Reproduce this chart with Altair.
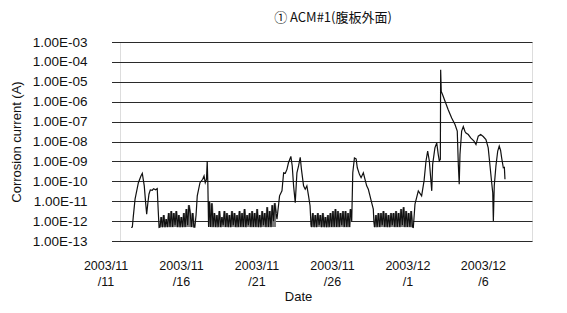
import altair as alt
import pandas as pd

# x = days since 2003-11-11 00:00, y = log10 of corrosion current (A)
PEAK_DAYS = [
    1.30, 1.38, 1.44, 1.56, 1.78, 1.95, 2.04, 2.17, 2.26, 2.33, 2.40, 2.48, 2.57, 2.70, 2.79, 2.92, 3.03, 3.09, 3.15,
    5.52, 5.60, 5.68, 5.86, 6.04, 6.13, 6.21, 6.29, 6.34, 6.38, 6.43,
    10.96, 11.13, 11.29, 11.40, 11.51, 11.62, 11.72, 11.88, 11.97, 12.06, 12.17, 12.28, 12.39, 12.50, 12.58,
    12.72, 12.83, 12.94, 13.05, 13.15, 13.21,
    15.91, 15.98, 16.09, 16.20, 16.28, 16.42, 16.53, 16.68, 16.79, 16.90, 17.01, 17.12, 17.23, 17.34, 17.38,
    19.99, 20.10, 20.32, 20.54, 20.70, 20.83, 20.94, 21.05, 21.21, 21.27, 21.42, 21.54, 21.64, 21.71, 21.78,
    21.80, 21.84, 21.93, 22.09, 22.30, 22.53, 22.75, 22.90, 22.97, 23.03, 23.08, 23.19, 23.30, 23.41, 23.48,
    23.63, 23.79, 24.01, 24.14, 24.29, 24.45, 24.62, 24.80, 24.95, 25.07, 25.18, 25.25, 25.29, 25.35, 25.46,
    25.58, 25.68, 25.77, 25.84, 25.95, 26.02, 26.06,
]
PEAK_LOG = [
    -12.32, -12.3, -11.8, -10.9, -10.07, -9.73, -9.6, -10.23, -11.07, -11.65, -11.15, -10.65, -10.43, -10.45,
    -10.37, -10.43, -10.37, -11.4, -12.32,
    -12.3, -11.7, -10.73, -10.07, -9.9, -9.73, -10.07, -9.9, -8.98, -10.07, -12.3,
    -11.9, -10.73, -10.48, -9.57, -9.6, -9.4, -9.07, -8.75, -9.23, -10.23, -11.07, -9.57, -9.23, -8.8, -9.4,
    -10.23, -10.4, -10.23, -10.73, -11.23, -12.15,
    -12.0, -9.57, -8.83, -8.87, -9.32, -9.65, -9.82, -9.57, -9.9, -10.23, -10.4, -10.73, -11.07, -11.4, -12.07,
    -12.32, -11.15, -10.48, -10.73, -9.98, -8.98, -8.48, -8.98, -10.48, -9.15, -8.32, -8.07, -8.65, -8.98, -8.9,
    -4.4, -5.48, -5.65, -5.98, -6.4, -6.82, -7.15, -7.48, -9.15, -10.15, -8.65, -7.48, -7.25, -7.5, -7.57,
    -7.65, -7.82, -7.98, -8.15, -7.73, -7.65, -7.75, -7.9, -8.32, -9.23, -10.07, -10.57, -12.0, -10.23, -9.23,
    -8.48, -8.23, -8.45, -8.82, -9.32, -9.3, -9.9,
]

# low-level fluctuating blocks, sampled every 2 hours
SAMPLE_STEP_DAYS = 2 / 24
NOISE_FLOOR = 5e-13
NOISE_A_START = 3.21
NOISE_A_LOG = [-12.3, -11.8, -12.3, -11.7, -12.3, -11.9, -12.3, -11.6, -12.3, -11.5, -12.3, -11.6, -12.2, -11.5,
               -12.3, -11.7, -12.3, -11.8, -12.3, -11.6, -12.3, -11.4, -12.2, -11.2, -11.6, -12.3, -11.6, -12.3]
NOISE_B_START = 6.48
NOISE_B_LOG = [-11.0, -12.3, -11.1, -12.3, -11.6, -12.3, -11.7, -12.3, -11.5, -12.3, -11.8, -12.2, -11.5, -12.3,
               -11.6, -12.3, -11.7, -12.3, -11.5, -12.2, -11.6, -12.3, -11.7, -12.3, -11.5, -12.3, -11.6, -12.3,
               -11.4, -12.3, -11.7, -12.2, -11.6, -12.3, -11.5, -12.3, -11.6, -12.3, -11.4, -12.3, -11.7, -12.3,
               -11.5, -12.2, -11.6, -12.3, -11.3, -12.3, -11.5, -12.3, -11.2, -12.0, -11.1, -11.6]
NOISE_C_START = 13.25
NOISE_C_LOG = [-12.3, -11.6, -12.3, -11.7, -12.3, -11.6, -12.2, -11.7, -12.3, -11.6, -12.3, -11.8, -12.3, -11.7,
               -12.3, -11.6, -12.3, -11.5, -12.3, -11.4, -12.3, -11.5, -12.3, -11.6, -12.2, -11.5, -12.3, -11.5,
               -12.3, -11.6, -12.3, -11.4]
NOISE_D_START = 17.43
NOISE_D_LOG = [-12.3, -11.7, -12.3, -11.6, -12.3, -11.6, -12.2, -11.5, -12.3, -11.6, -12.3, -11.7, -12.3, -11.6,
               -12.2, -11.6, -12.3, -11.5, -12.3, -11.6, -12.3, -11.4, -12.2, -11.3, -12.3, -11.5, -12.3, -11.6,
               -12.3, -11.5, -12.3]

TICK_DAYS = [0, 5, 10, 15, 20, 25]
TICK_LABELS = [["2003/11", "/11"], ["2003/11", "/16"], ["2003/11", "/21"],
               ["2003/11", "/26"], ["2003/12", "/1"], ["2003/12", "/6"]]
Y_TICKS = [1e-13, 1e-12, 1e-11, 1e-10, 1e-9, 1e-8, 1e-7, 1e-6, 1e-5, 1e-4, 1e-3]

rows = [(d, v, "") for d, v in zip(PEAK_DAYS, PEAK_LOG)]
for name, start, vals in [("A", NOISE_A_START, NOISE_A_LOG), ("B", NOISE_B_START, NOISE_B_LOG),
                          ("C", NOISE_C_START, NOISE_C_LOG), ("D", NOISE_D_START, NOISE_D_LOG)]:
    rows += [(start + i * SAMPLE_STEP_DAYS, v, name) for i, v in enumerate(vals)]
rows.sort()
df = pd.DataFrame({"day": [r[0] for r in rows], "current": [10 ** r[1] for r in rows],
                   "block": [r[2] for r in rows]})

label_list = "[" + ",".join("['%s','%s']" % tuple(l) for l in TICK_LABELS) + "]"
FONT = "Liberation Sans"

x_enc = alt.X("day:Q",
              scale=alt.Scale(domain=[0, 27.85], range=[-8.5, 412], nice=False, zero=False),
              axis=alt.Axis(values=TICK_DAYS, labelExpr=label_list + "[round(datum.value/5)]",
                            grid=False, ticks=False, domain=False, labelFontSize=12.5,
                            labelFont=FONT, labelColor="#111", labelAlign="center", labelBaseline="top",
                            labelLineHeight=16, labelPadding=18, labelOffset=-6, labelOverlap=False,
                            title="Date", titleFont=FONT, titleFontSize=13, titleFontWeight="normal",
                            titleColor="#111", titlePadding=3, titleX=178, titleAlign="center"))
y_enc = alt.Y("current:Q",
              scale=alt.Scale(type="log", domain=[1e-13, 1e-3], nice=False),
              axis=alt.Axis(values=Y_TICKS,
                            labelExpr="(round(-log(datum.value)/LN10) < 10 ? '1.00E-0' : '1.00E-') + round(-log(datum.value)/LN10)",
                            grid=True, gridColor="#2a2a2a", gridWidth=1, ticks=False, domain=False,
                            labelFont=FONT, labelFontSize=13.5, labelColor="#111", labelPadding=33,
                            labelOverlap=False, labelBound=False, labelFlush=False,
                            title="Corrosion current (A)", titleFont=FONT, titleFontSize=13,
                            titleFontWeight="normal", titleColor="#111", titlePadding=9))

base = alt.Chart(df)
noise = base.transform_filter(alt.datum.block != "")
blocks_fill = noise.mark_area(color="#7a7a7a", clip=True).encode(
    x=x_enc, y=y_enc, y2=alt.datum(NOISE_FLOOR), detail="block:N")
blocks_line = noise.mark_line(color="#808080", strokeWidth=2.2, clip=True).encode(
    x=x_enc, y=y_enc, detail="block:N")
line = base.mark_line(color="#111111", strokeWidth=1.2, clip=True).encode(x=x_enc, y=y_enc)

chart = alt.layer(blocks_fill, blocks_line, line).properties(
    width=412, height=199,
    title=alt.TitleParams("① ACM#1(腹板外面)", font="Noto Sans CJK JP", fontSize=13,
                          fontWeight="normal", color="#111", anchor="middle", dx=7, offset=10),
    autosize=alt.AutoSizeParams(type="none"),
    padding={"left": 112, "top": 34, "right": 27, "bottom": 64},
).configure_view(stroke="#555", strokeWidth=1).configure(background="white")

chart.save("out.html", embed_options={"renderer": "svg", "actions": False})
